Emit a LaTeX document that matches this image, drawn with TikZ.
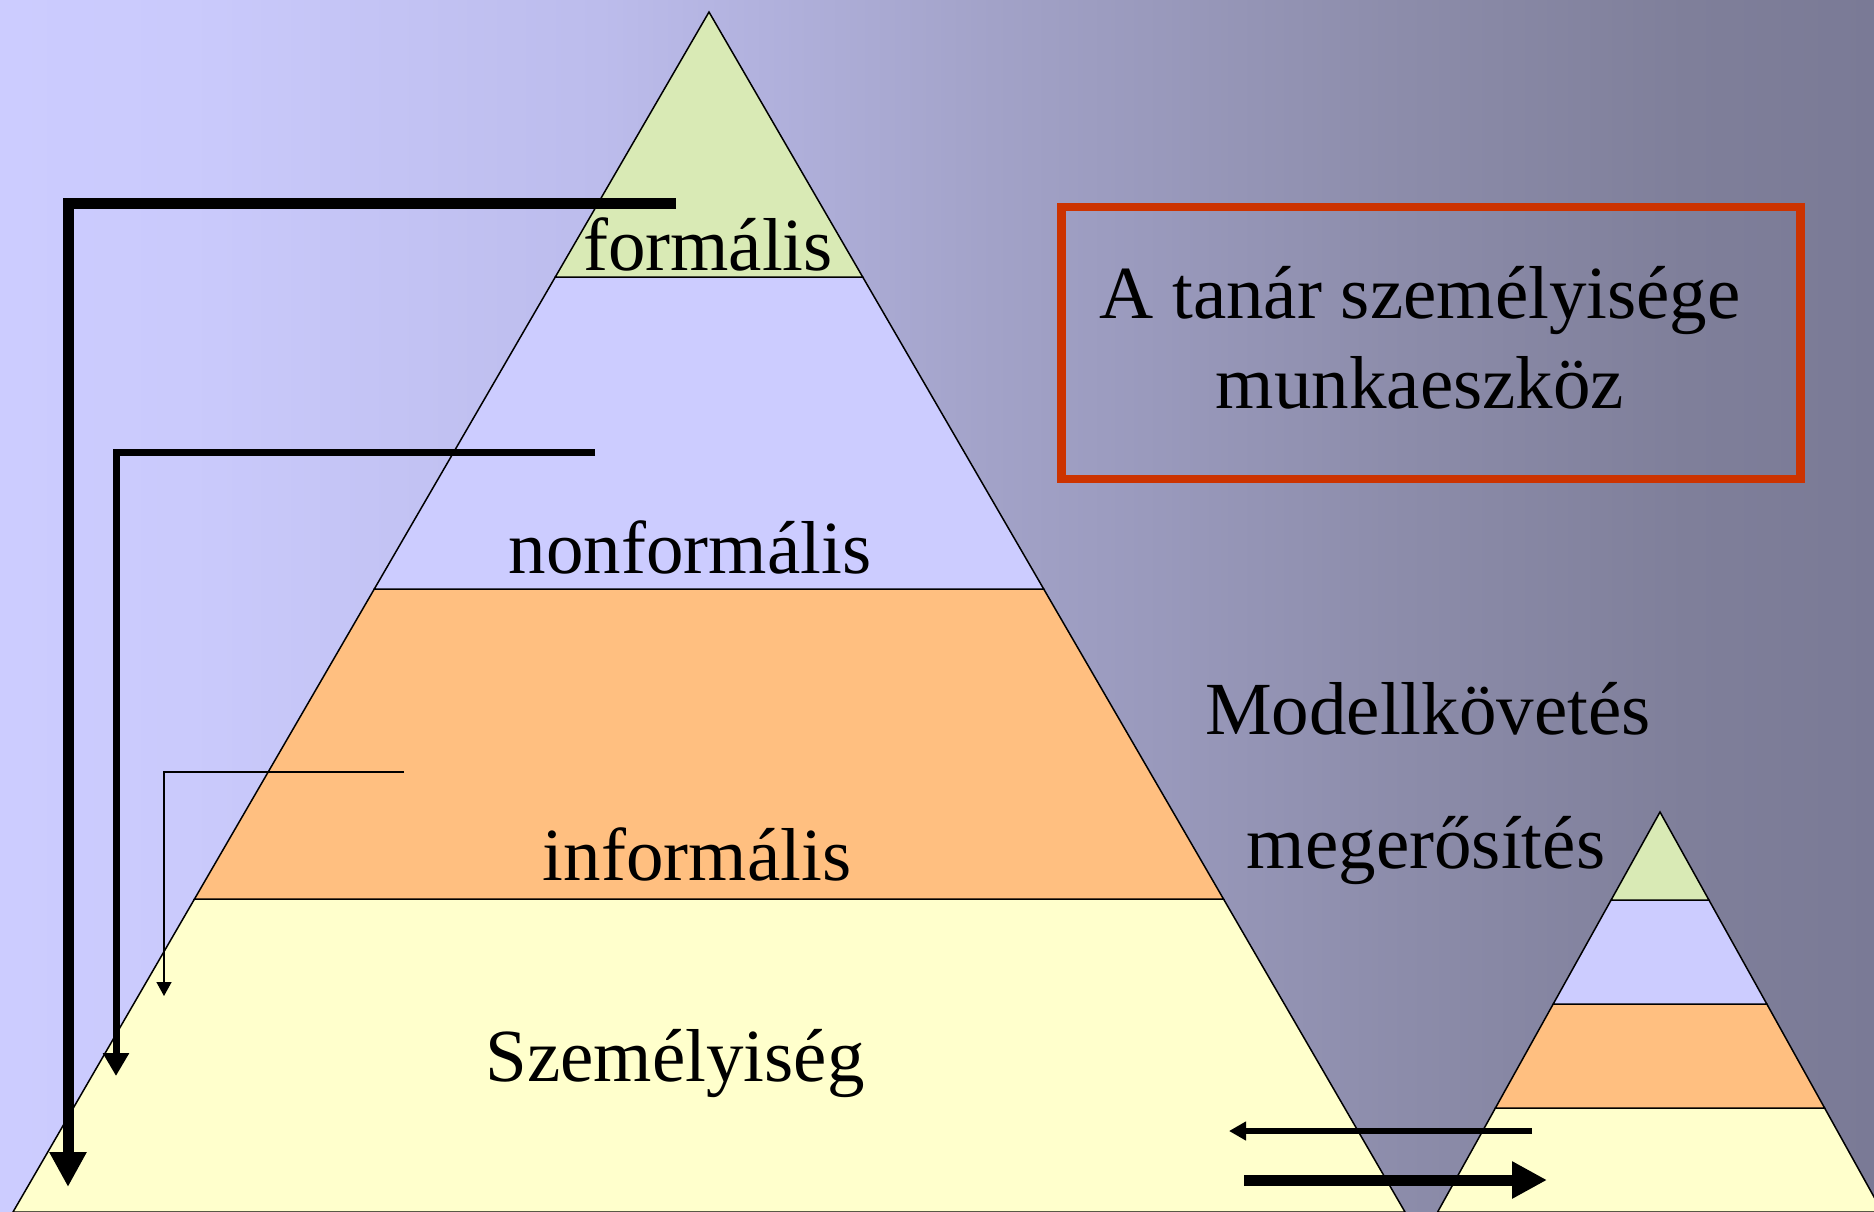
\documentclass[tikz,border=0pt]{standalone}
\usepackage{fontspec}
\setmainfont{Liberation Serif}
\usetikzlibrary{arrows.meta}
\definecolor{lgreen}{RGB}{217,234,181}
\definecolor{lav}{RGB}{204,204,255}
\definecolor{orng}{RGB}{255,191,128}
\definecolor{lyel}{RGB}{255,255,204}
\definecolor{boxred}{RGB}{204,51,0}
\definecolor{bgA}{RGB}{204,204,255}
\definecolor{bgB}{RGB}{202,202,252}
\definecolor{bgC}{RGB}{188,188,236}
\definecolor{bgD}{RGB}{162,162,200}
\definecolor{bgE}{RGB}{140,140,170}
\definecolor{bgF}{RGB}{127,127,154}
\definecolor{bgG}{RGB}{122,122,150}
\pgfdeclarehorizontalshading{bgshade}{100bp}{color(0bp)=(bgA); color(25bp)=(bgA); color(30bp)=(bgB); color(41bp)=(bgC); color(51.5bp)=(bgD); color(62.5bp)=(bgE); color(70bp)=(bgF); color(75bp)=(bgG); color(100bp)=(bgG)}
\begin{document}
\begin{tikzpicture}[x=1pt,y=-1pt,
  layer/.style={draw=black,line width=1.5pt,line join=miter},
  lbl/.style={anchor=base,inner sep=0pt,font=\fontsize{75pt}{90pt}\selectfont},
  redbox/.style={draw=boxred,line width=8.5pt,inner sep=0pt,minimum width=739pt,minimum height=272pt},
  bigarrow/.style={line width=11pt,-{Triangle[length=35pt,width=35pt]}},
  midarrow/.style={line width=7pt,-{Triangle[length=23pt,width=25pt]}},
  thinarrow/.style={line width=1.5pt,-{Triangle[length=14pt,width=15pt]}},
  backarrow/.style={line width=6pt,-{Triangle[length=17pt,width=18pt]}}]
\useasboundingbox (0,0) rectangle (1874,1212);
\clip (0,0) rectangle (1874,1212);
% background
\shade[shading=bgshade] (0,0) rectangle (1874,1212);
% big pyramid
\filldraw[layer,fill=lyel] (194.5,899) -- (1223.5,899) -- (1405,1212) -- (13,1212) -- cycle;
\filldraw[layer,fill=orng] (374.3,589) -- (1043.7,589) -- (1223.5,899) -- (194.5,899) -- cycle;
\filldraw[layer,fill=lav] (555.3,277) -- (862.7,277) -- (1043.7,589) -- (374.3,589) -- cycle;
\filldraw[layer,fill=lgreen] (709,12) -- (862.7,277) -- (555.3,277) -- cycle;
% small pyramid
\filldraw[layer,fill=lyel] (1495.4,1108) -- (1824.6,1108) -- (1882.4,1212) -- (1437.6,1212) -- cycle;
\filldraw[layer,fill=orng] (1553.2,1004) -- (1766.8,1004) -- (1824.6,1108) -- (1495.4,1108) -- cycle;
\filldraw[layer,fill=lav] (1611.1,900) -- (1708.9,900) -- (1766.8,1004) -- (1553.2,1004) -- cycle;
\filldraw[layer,fill=lgreen] (1660,812) -- (1708.9,900) -- (1611.1,900) -- cycle;
% labels
\node[lbl] (formalis) at (708,270) {formális};
\node[lbl] (nonformalis) at (690,573) {nonformális};
\node[lbl] (informalis) at (697,880) {informális};
\node[lbl] (szemelyiseg) at (675,1081) {Személyiség};
\node[lbl] (modell) at (1428,734) {Modellkövetés};
\node[lbl] (megerosites) at (1426,868) {megerősítés};
% red box
\node[redbox] (box) at (1431,343) {};
\node[lbl] (tanar) at (1420,318) {A tanár személyisége};
\node[lbl] (munka) at (1420,408) {munkaeszköz};
% bracket arrows
\coordinate (b1s) at (676,203);
\coordinate (b1c) at (68,203);
\coordinate (b1e) at (68,1187);
\coordinate (b2s) at (595,452);
\coordinate (b2c) at (116,452);
\coordinate (b2e) at (116,1076);
\coordinate (b3s) at (404,772);
\coordinate (b3c) at (164,772);
\coordinate (b3e) at (164,996);
\draw[bigarrow] (b1s) -- (b1c) -- (b1e);
\draw[midarrow] (b2s) -- (b2c) -- (b2e);
\draw[thinarrow] (b3s) -- (b3c) -- (b3e);
% bottom arrows
\coordinate (las) at (1532,1131);
\coordinate (lae) at (1229,1131);
\coordinate (ras) at (1244,1180);
\coordinate (rae) at (1547,1180);
\draw[backarrow] (las) -- (lae);
\draw[bigarrow] (ras) -- (rae);
\end{tikzpicture}
\end{document}
